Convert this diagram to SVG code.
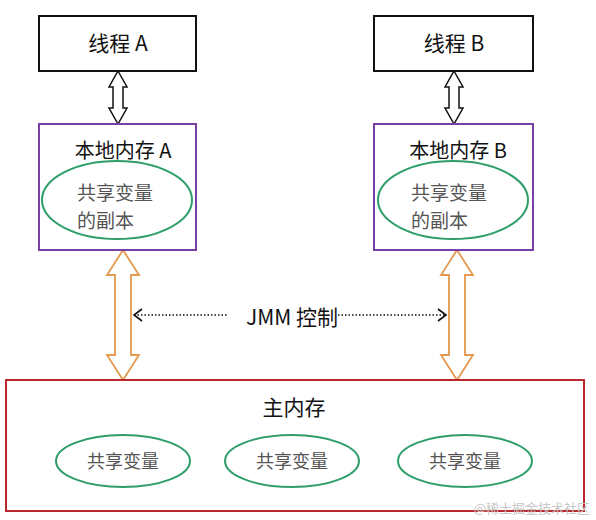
<svg xmlns="http://www.w3.org/2000/svg" width="596" height="520" viewBox="0 0 596 520">
<defs>
<style>
text{font-family:"Noto Sans CJK SC","Noto Sans",sans-serif;}
.t{font-size:20px;fill:#111;text-anchor:middle;}
.g{font-size:19px;fill:#555;}
.gc{font-size:18px;fill:#555;text-anchor:middle;}
.thread{fill:#fff;stroke:#111;stroke-width:2;}
.local{fill:#fff;stroke:#7a3ea8;stroke-width:2;}
.ell{fill:#fff;stroke:#2f9e6a;stroke-width:2;}
.barrow{fill:#fff;stroke:#111;stroke-width:1.5;}
.oarrow{fill:#fff;stroke:#e39a4f;stroke-width:1.8;}
.dot{stroke:#111;stroke-width:1.5;stroke-dasharray:1.5 2;fill:none;}
.chev{stroke:#111;stroke-width:1.6;fill:none;}
</style>
</defs>
<rect width="596" height="520" fill="#fff"/>
<g id="connectors">
<path class="barrow" d="M118,71 L127,87 L123,87 L123,108 L127,108 L118,124 L109,108 L113,108 L113,87 L109,87 Z"/>
<path class="barrow" d="M454,71 L463,87 L459,87 L459,108 L463,108 L454,124 L445,108 L449,108 L449,87 L445,87 Z"/>
<path class="oarrow" d="M123,250 L139,275 L131,275 L131,355 L139,355 L123,380 L107,355 L115,355 L115,275 L107,275 Z"/>
<path class="oarrow" d="M457,250 L473,275 L465,275 L465,355 L473,355 L457,380 L441,355 L449,355 L449,275 L441,275 Z"/>
<line class="dot" x1="134" y1="315" x2="228" y2="315"/>
<path class="chev" d="M142,309 L134,315 L142,321"/>
<line class="dot" x1="338" y1="315" x2="446" y2="315"/>
<path class="chev" d="M438,309 L446,315 L438,321"/>
<text class="t" x="292" y="325" style="font-size:21px">JMM 控制</text>
</g>
<g id="threadA">
<rect class="thread" x="39" y="16" width="157" height="55"/>
<text class="t" x="118" y="51" style="font-size:21px">线程 A</text>
</g>
<g id="threadB">
<rect class="thread" x="374" y="16" width="159" height="55"/>
<text class="t" x="454" y="51" style="font-size:21px">线程 B</text>
</g>
<g id="localA">
<rect class="local" x="39" y="124" width="157" height="126"/>
<text class="t" x="123" y="158">本地内存 A</text>
<ellipse class="ell" cx="117" cy="200" rx="75" ry="39"/>
<text class="g" x="77" y="200">共享变量</text>
<text class="g" x="77" y="228">的副本</text>
</g>
<g id="localB">
<rect class="local" x="374" y="124" width="159" height="126"/>
<text class="t" x="458" y="158">本地内存 B</text>
<ellipse class="ell" cx="453" cy="200" rx="75" ry="39"/>
<text class="g" x="411" y="200">共享变量</text>
<text class="g" x="411" y="228">的副本</text>
</g>
<g id="mainMemory">
<rect x="6" y="380" width="578" height="131" fill="#fff" stroke="#b8282d" stroke-width="2"/>
<text class="t" x="294" y="415" style="font-size:21px">主内存</text>
<g id="var1"><ellipse class="ell" cx="123" cy="461" rx="67" ry="26"/><text class="gc" x="123" y="468">共享变量</text></g>
<g id="var2"><ellipse class="ell" cx="292" cy="461" rx="67" ry="26"/><text class="gc" x="292" y="468">共享变量</text></g>
<g id="var3"><ellipse class="ell" cx="465" cy="461" rx="67" ry="26"/><text class="gc" x="465" y="468">共享变量</text></g>
</g>
<text x="590" y="513" font-size="13" fill="#c8c8c8" text-anchor="end">@稀土掘金技术社区</text>
</svg>
